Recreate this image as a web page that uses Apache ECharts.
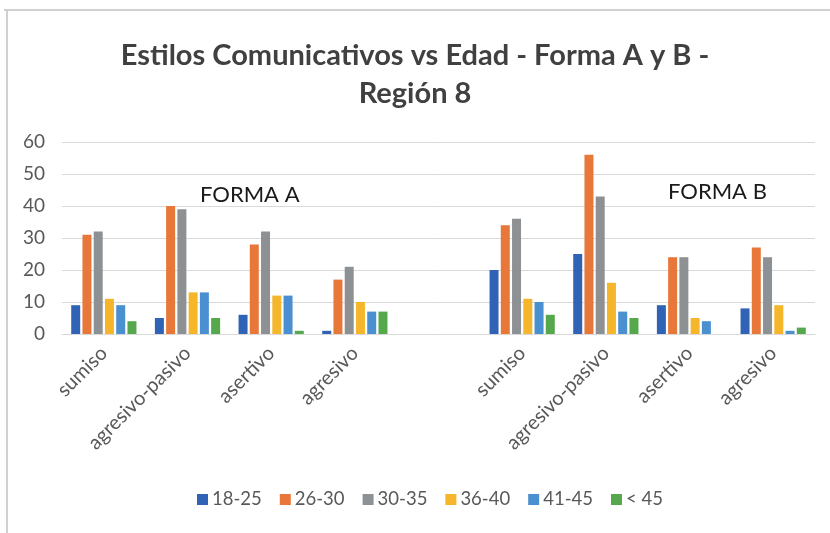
<!DOCTYPE html>
<html><head><meta charset="utf-8">
<script src="https://cdn.jsdelivr.net/npm/echarts@6/dist/echarts.min.js"></script>
<style>html,body{margin:0;padding:0;background:#fff}#c{width:830px;height:533px}</style>
</head><body><div id="c"></div>
<script>
const categories = ['sumiso','agresivo-pasivo','asertivo','agresivo','','sumiso','agresivo-pasivo','asertivo','agresivo'];
const seriesNames = ['18-25','26-30','30-35','36-40','41-45','< 45'];
const s1825 = [9, 5, 6, 1, null, 20, 25, 9, 8];
const s2630 = [31, 40, 28, 17, null, 34, 56, 24, 27];
const s3035 = [32, 39, 32, 21, null, 36, 43, 24, 24];
const s3640 = [11, 13, 12, 10, null, 11, 16, 5, 9];
const s4145 = [9, 13, 12, 7, null, 10, 7, 4, 1];
const s45 = [4, 5, 1, 7, null, 6, 5, 0, 2];
const yTicks = [0, 10, 20, 30, 40, 50, 60];
const colors = ['#3063B5','#E8773A','#8E9194','#F5B62B','#4A8FD0','#55A84B'];
const allData = [s1825, s2630, s3035, s3640, s4145, s45];

const chart = echarts.init(document.getElementById('c'));
const font = 'Lato';
chart.setOption({
  animation: false,
  title: {
    text: 'Estilos Comunicativos vs Edad - Forma A y B -\nRegión 8',
    left: 'center', top: 32,
    textStyle: { fontFamily: font, fontWeight: 'bold', fontSize: 29, color: '#404040', lineHeight: 38 }
  },
  legend: {
    data: seriesNames, bottom: 19, left: 192,
    itemWidth: 11, itemHeight: 11, itemGap: 18, icon: 'rect',
    textStyle: { fontFamily: font, fontSize: 18.5, color: '#595959', padding: [0,0,0,-1] }
  },
  grid: { left: 62, right: 15, top: 142, bottom: 199 },
  xAxis: {
    type: 'category', data: categories,
    axisLine: { lineStyle: { color: '#d9d9d9', width: 1 } },
    axisTick: { show: false },
    axisLabel: { rotate: 45, interval: 0, fontFamily: font, fontSize: 20, color: '#595959', margin: 16 }
  },
  yAxis: {
    type: 'value', min: yTicks[0], max: yTicks[yTicks.length-1], interval: 10,
    axisLine: { show: false }, axisTick: { show: false },
    splitLine: { lineStyle: { color: '#d9d9d9', width: 1 } },
    axisLabel: { fontFamily: font, fontSize: 19, color: '#595959', margin: 17 }
  },
  series: seriesNames.map((n, i) => ({
    name: n, type: 'bar', data: allData[i], barWidth: 9, barGap: '25%',
    itemStyle: { color: colors[i] }
  })),
  graphic: [
    { type: 'text', left: 200, top: 184, style: { text: 'FORMA A', fontFamily: font, fontSize: 22, fill: '#1a1a1a' } },
    { type: 'text', left: 668, top: 181, style: { text: 'FORMA B', fontFamily: font, fontSize: 22, fill: '#1a1a1a' } },
    { type: 'line', shape: { x1: 4, y1: 10, x2: 830, y2: 10 }, style: { stroke: '#d0d0d0', lineWidth: 2 } },
    { type: 'line', shape: { x1: 7, y1: 10, x2: 7, y2: 533 }, style: { stroke: '#d0d0d0', lineWidth: 2 } }
  ]
});
</script></body></html>
